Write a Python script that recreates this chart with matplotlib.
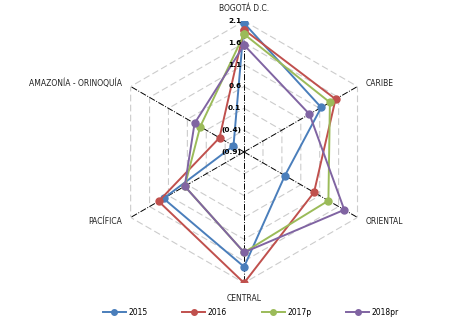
import numpy as np
import matplotlib.pyplot as plt

# Regions (clockwise from top) and values by year
regions = ["BOGOTÁ D.C.", "CARIBE", "ORIENTAL", "CENTRAL", "PACÍFICA", "AMAZONÍA - ORINOQUÍA"]
years = ["2015", "2016", "2017p", "2018pr"]
v2015 = [2.05, 1.14, 0.18, 1.73, 1.23, -0.62]
v2016 = [1.90, 1.52, 0.95, 2.10, 1.36, -0.25]
v2017 = [1.80, 1.37, 1.33, 1.40, 0.67, 0.26]
v2018 = [1.55, 0.83, 1.75, 1.40, 0.67, 0.41]
ring_vals = [-0.4, 0.1, 0.6, 1.1, 1.6, 2.1]
ring_labels = ["(0.9)", "(0.4)", "0.1", "0.6", "1.1", "1.6", "2.1"]
colors = ["#4A7EBB", "#C0504D", "#9BBB59", "#8064A2"]

plt.rcParams['font.family'] = ['DejaVu Sans']

fig = plt.figure(figsize=(4.52, 3.23), dpi=100)
ax = fig.add_axes([0.250, 0.124, 0.580, 0.811], projection='polar')
ax.set_theta_zero_location('N')
ax.set_theta_direction(-1)
ax.set_ylim(-0.9, 2.1)
ax.grid(False)
ax.spines['polar'].set_visible(False)
ax.set_xticks([])
ax.set_yticks([])

theta = np.deg2rad(np.arange(6) * 60)
theta_c = np.append(theta, theta[0])

# hexagonal grid rings
for r in ring_vals:
    ax.plot(theta_c, [r] * 7, color='#CCCCCC', lw=0.8, ls=(0, (6, 3)), zorder=1)

# spokes
for t in theta:
    ax.plot([t, t], [-0.9, 2.1], color='black', lw=0.7, ls='-.', zorder=1)

# series
for name, vals, c in zip(years, [v2015, v2016, v2017, v2018], colors):
    ax.plot(theta_c, vals + vals[:1], color=c, lw=1.4, marker='o', ms=5,
            label=name, zorder=3)

# radial value labels along the top spoke
for v, lab in zip([-0.9] + ring_vals, ring_labels):
    ax.annotate(lab, xy=(0, v), xytext=(-2, 0), textcoords='offset points',
                ha='right', va='center', fontsize=5.3, color='black',
                fontweight='semibold', zorder=4)

# category labels
offsets = [((0, 9), 'center'), ((6, 2), 'left'), ((6, -3), 'left'),
           ((0, -11), 'center'), ((-6, -3), 'right'), ((-6, 2), 'right')]
for t, name, (off, ha) in zip(theta, regions, offsets):
    ax.annotate(name, xy=(t, 2.1), xytext=off, textcoords='offset points',
                ha=ha, va='center', fontsize=5.5, color='#222222')

fig.legend(loc='center', bbox_to_anchor=(0.555, 0.033), ncol=4, frameon=False,
           fontsize=5.5, handlelength=3, columnspacing=4.6, handletextpad=0.3,
           markerscale=0.8)

fig.savefig("out.png", dpi=100)
